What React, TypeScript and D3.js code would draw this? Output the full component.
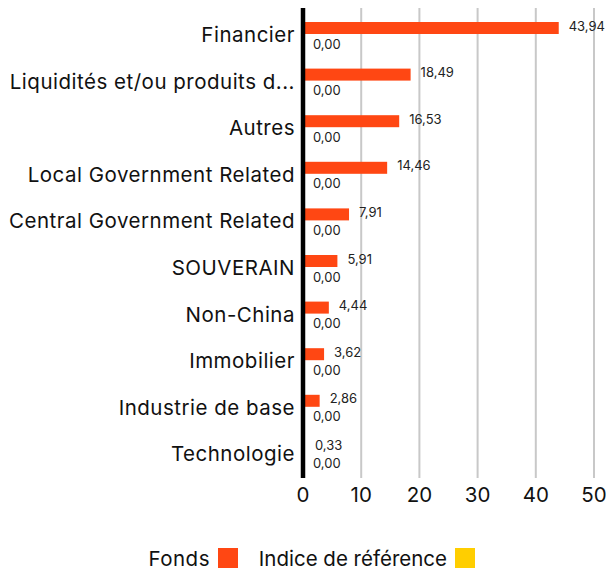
import React from "react";
import * as d3 from "d3";

const categories = [
  "Financier",
  "Liquidités et/ou produits d...",
  "Autres",
  "Local Government Related",
  "Central Government Related",
  "SOUVERAIN",
  "Non-China",
  "Immobilier",
  "Industrie de base",
  "Technologie",
];
const fondsValues = [43.94, 18.49, 16.53, 14.46, 7.91, 5.91, 4.44, 3.62, 2.86, 0.33];
const indiceValues = [0, 0, 0, 0, 0, 0, 0, 0, 0, 0];
const xTicks = [0, 10, 20, 30, 40, 50];
const seriesNames = ["Fonds", "Indice de référence"];
const seriesColors = ["#ff4713", "#ffce00"];

const W = 606;
const H = 573;
const FONT = "Inter, 'Open Sans', sans-serif";

export default function App() {
  const x = d3.scaleLinear().domain([0, 50]).range([303, 594]);
  const y = d3.scaleBand<string>().domain(categories).range([10, 476]).paddingInner(0).paddingOuter(0);
  const fmt = (v: number) => v.toFixed(2).replace(".", ",");
  const plotTop = 8;
  const plotBottom = 478;

  return (
    <div style={{ position: "fixed", left: 0, top: 0 }}>
      <svg width={W} height={H} style={{ display: "block", background: "#fff" }} fontFamily={FONT}>
        {xTicks.filter((t) => t > 0).map((t) => (
          <line key={t} x1={x(t)} x2={x(t)} y1={plotTop} y2={plotBottom} stroke="#c8c8c8" strokeWidth={2} />
        ))}
        {categories.map((c, i) => {
          const b = y(c) as number;
          return (
            <g key={c}>
              <text x={295} y={b + 32} textAnchor="end" fontSize={20.5} letterSpacing={0.5} fill="#111">{c}</text>
              <rect x={x(0)} y={b + 12} width={x(fondsValues[i]) - x(0)} height={12} fill={seriesColors[0]} />
              <rect x={x(0)} y={b + 24} width={x(indiceValues[i]) - x(0)} height={12} fill={seriesColors[1]} />
              <text x={x(fondsValues[i]) + 10} y={b + 16} dy="0.35em" fontSize={13} fill="#222">{fmt(fondsValues[i])}</text>
              <text x={x(indiceValues[i]) + 10} y={b + 34} dy="0.35em" fontSize={13} fill="#222">{fmt(indiceValues[i])}</text>
            </g>
          );
        })}
        <line x1={303} x2={303} y1={plotTop} y2={plotBottom} stroke="#000" strokeWidth={4.5} />
        {xTicks.map((t) => (
          <text key={t} x={x(t)} y={495} dy="0.35em" textAnchor="middle" fontSize={20.5} fill="#111">{t}</text>
        ))}
        <text x={210} y={566} textAnchor="end" fontSize={20.5} letterSpacing={0.5} fill="#111">{seriesNames[0]}</text>
        <rect x={218} y={548} width={20} height={20} fill={seriesColors[0]} />
        <text x={447} y={566} textAnchor="end" fontSize={20.5} fill="#111">{seriesNames[1]}</text>
        <rect x={455} y={548} width={20} height={20} fill={seriesColors[1]} />
      </svg>
    </div>
  );
}
